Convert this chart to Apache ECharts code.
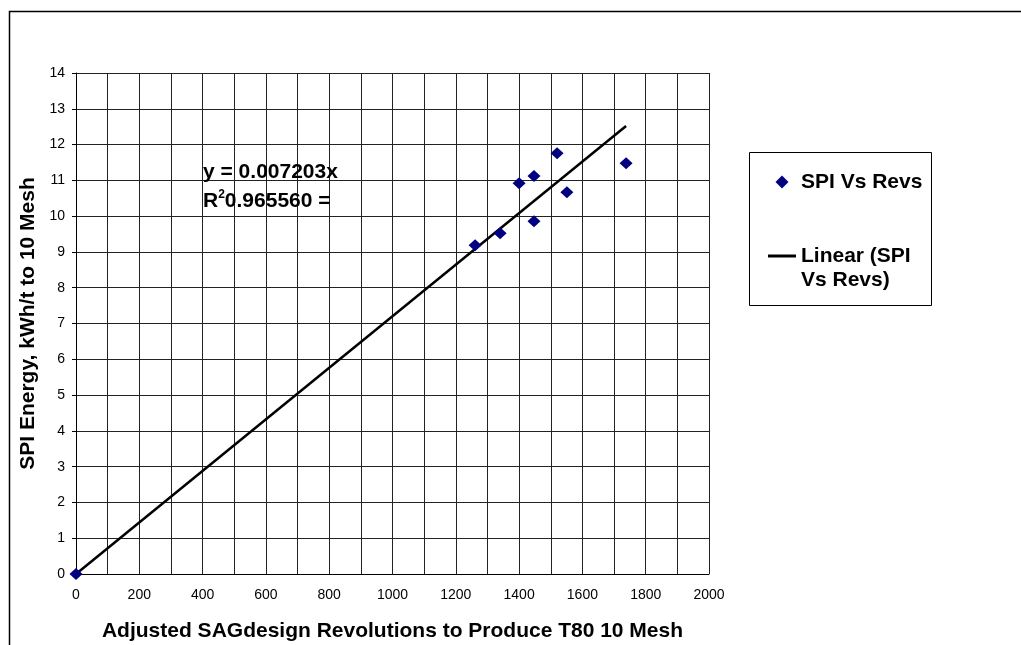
<!DOCTYPE html>
<html>
<head>
<meta charset="utf-8">
<script src="https://cdn.jsdelivr.net/npm/echarts@6/dist/echarts.min.js"></script>
<style>
html,body{margin:0;padding:0;background:#fff;}
#chart{width:1021px;height:645px;}
</style>
</head>
<body>
<div id="chart"></div>
<script>
// Data
var revs = [0, 1261, 1340, 1400, 1447, 1447, 1520, 1551, 1738];
var spi  = [0, 9.19, 9.52, 10.92, 11.12, 9.86, 11.76, 10.67, 11.48];
var trendX = [0, 1738];
var trendY = [0, 12.52];
var equationLine = 'y = 0.007203x';
var r2Value = '0.965560 =';
var seriesName = 'SPI Vs Revs';
var trendName = 'Linear (SPI Vs Revs)';
var xTitle = 'Adjusted SAGdesign Revolutions to Produce T80 10 Mesh';
var yTitle = 'SPI Energy, kWh/t to 10 Mesh';

var font = '"Liberation Sans", Arial, sans-serif';
var chart = echarts.init(document.getElementById('chart'), null, {renderer:'canvas'});

var pts = revs.map(function(x,i){return [x, spi[i]];});
var trend = trendX.map(function(x,i){return [x, trendY[i]];});

chart.setOption({
  animation:false,
  backgroundColor:'#fff',
  textStyle:{fontFamily:font},
  grid:{left:76, right:312, top:73, bottom:71, containLabel:false, outerBoundsMode:'none'},
  xAxis:{
    type:'value', min:0, max:2000, interval:100,
    name:xTitle, nameLocation:'middle', nameGap:47,
    nameTextStyle:{fontFamily:font, fontSize:21, fontWeight:'bold', color:'#000'},
    axisLine:{show:true, onZero:false, lineStyle:{color:'#000', width:1}},
    axisTick:{show:false},
    axisLabel:{color:'#000', fontSize:14, fontFamily:font, margin:14,
      formatter:function(v){return (v % 200 === 0) ? String(v) : '';}},
    splitLine:{show:true, lineStyle:{color:'#222', width:1}}
  },
  yAxis:{
    type:'value', min:0, max:14, interval:1,
    name:yTitle, nameLocation:'middle', nameGap:37, nameRotate:90,
    nameTextStyle:{fontFamily:font, fontSize:21, fontWeight:'bold', color:'#000'},
    axisLine:{show:true, onZero:false, lineStyle:{color:'#000', width:1}},
    axisTick:{show:true, inside:false, length:4, lineStyle:{color:'#000'}},
    axisLabel:{color:'#000', fontSize:14, fontFamily:font, margin:11},
    splitLine:{show:true, lineStyle:{color:'#222', width:1}}
  },
  legend:{
    orient:'vertical', left:763, top:165, itemGap:26,
    itemWidth:28, itemHeight:13, symbolKeepAspect:true,
    textStyle:{fontFamily:font, fontSize:21, fontWeight:'bold', color:'#000', lineHeight:24},
    formatter:function(n){return n === trendName ? '\nLinear (SPI\nVs Revs)' : n;},
    data:[
      {name:seriesName, icon:'path://M0,-1 L1,0 L0,1 L-1,0 Z', itemStyle:{color:'#000080', opacity:1}},
      {name:trendName, icon:'path://M0,0 L28,0 L28,3 L0,3 Z'}
    ]
  },
  graphic:[
    {type:'rect', left:7, top:9, silent:true, z:-10,
      shape:{x:0, y:0, width:1100, height:700},
      style:{fill:'none', stroke:'#000', lineWidth:1.5}},
    {type:'rect', left:749, top:152, silent:true,
      shape:{x:0, y:0, width:182, height:153},
      style:{fill:'#fff', stroke:'#000', lineWidth:1}, z:-1},
    {type:'text', left:203, top:162, silent:true, z:100,
      style:{text:equationLine, font:'bold 21px ' + font, fill:'#000'}},
    {type:'text', left:203, top:189, silent:true, z:100,
      style:{
        text:'{a|R}{s|2}{a|' + r2Value + '}',
        rich:{
          a:{fontFamily:font, fontSize:21, fontWeight:'bold', fill:'#000', lineHeight:24},
          s:{fontFamily:font, fontSize:12, fontWeight:'bold', fill:'#000', verticalAlign:'top', lineHeight:24}
        }
      }}
  ],
  series:[
    {name:seriesName, type:'scatter', data:pts, symbol:'diamond', symbolSize:[13,12],
      itemStyle:{color:'#000080', opacity:1}, z:5},
    {name:trendName, type:'line', data:trend, symbol:'none', showSymbol:false,
      lineStyle:{color:'#000', width:2.5}, itemStyle:{color:'#000'}, z:4}
  ]
});
</script>
</body>
</html>
